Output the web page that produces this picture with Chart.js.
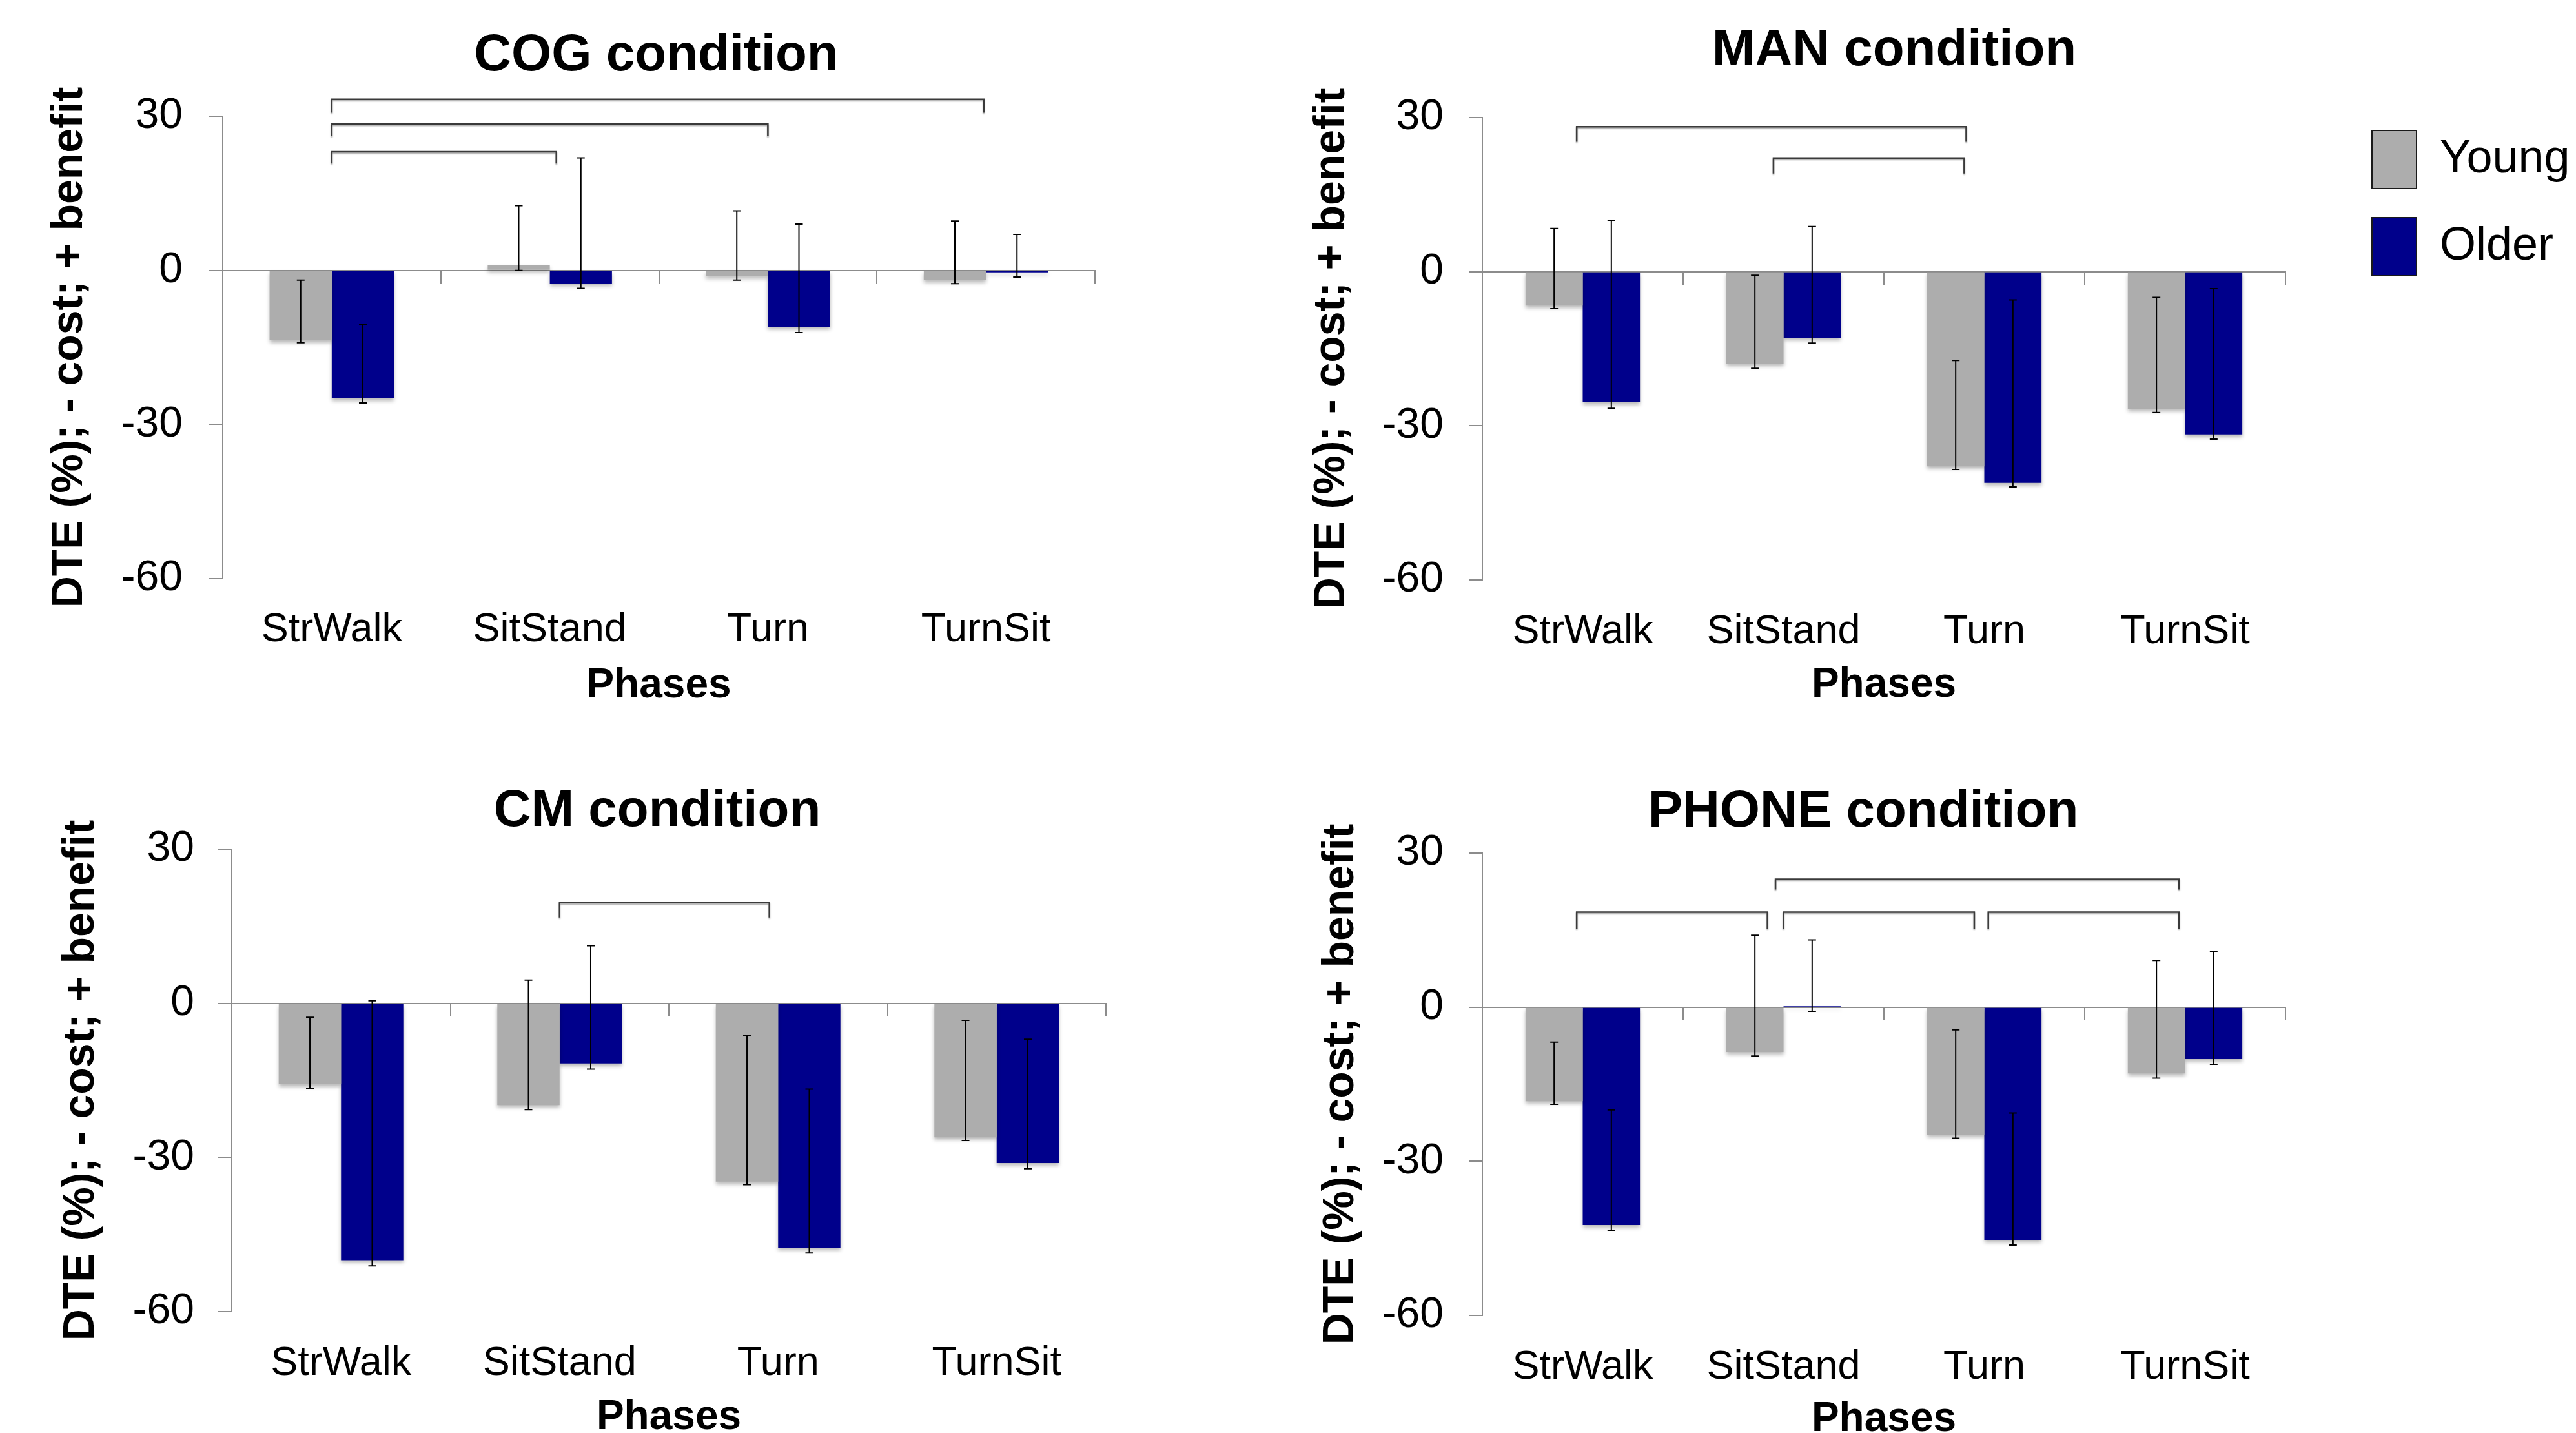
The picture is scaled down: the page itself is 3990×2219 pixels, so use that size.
<!DOCTYPE html>
<html><head><meta charset="utf-8">
<script src="https://cdn.jsdelivr.net/npm/chart.js@4.4.1/dist/chart.umd.min.js"></script>
<style>
html,body{margin:0;padding:0;background:#fff;overflow:hidden;}
#wrap{position:relative;width:3990px;height:2219px;overflow:hidden;background:#fff;}
canvas{position:absolute;}
</style></head><body>
<div id="wrap">
<canvas id="cog" width="1995" height="1110" style="left:0;top:0"></canvas>
<canvas id="man" width="1995" height="1110" style="left:1995px;top:0"></canvas>
<canvas id="cm" width="1995" height="1130" style="left:0;top:1110px"></canvas>
<canvas id="phone" width="1995" height="1130" style="left:1995px;top:1110px"></canvas>
</div>
<script>
// ---------- data ----------
const categories = ['StrWalk', 'SitStand', 'Turn', 'TurnSit'];
const seriesNames = ['Young', 'Older'];
const yTicks = [-60, -30, 0, 30];

// COG condition
const cogYoung = [-13.6, 1.0, -1.1, -1.9];
const cogOlder = [-24.9, -2.6, -11.0, -0.4];
const cogYoungErr = [[-14.1, -1.9], [0.0, 12.6], [-1.9, 11.6], [-2.6, 9.6]];
const cogOlderErr = [[-25.8, -10.6], [-3.5, 21.9], [-12.1, 9.0], [-1.3, 7.0]];
const cogBrackets = [[0, 2.99, 33.3, 30.7], [0, 2.0, 28.5, 26.1], [0, 1.03, 23.1, 20.8]];

// MAN condition
const manYoung = [-6.6, -17.9, -37.9, -26.7];
const manOlder = [-25.4, -12.9, -41.1, -31.7];
const manYoungErr = [[-7.2, 8.4], [-18.8, -0.7], [-38.5, -17.3], [-27.4, -5.0]];
const manOlderErr = [[-26.6, 10.0], [-13.9, 8.8], [-41.9, -5.5], [-32.6, -3.3]];
const manBrackets = [[-0.03, 1.91, 28.2, 25.3], [0.95, 1.9, 22.1, 19.1]];

// CM condition
const cmYoung = [-15.7, -19.8, -34.7, -26.1];
const cmOlder = [-50.0, -11.7, -47.6, -31.1];
const cmYoungErr = [[-16.5, -2.7], [-20.7, 4.5], [-35.3, -6.3], [-26.7, -3.3]];
const cmOlderErr = [[-51.1, 0.5], [-12.8, 11.2], [-48.6, -16.7], [-32.2, -7.0]];
const cmBrackets = [[1.0, 1.96, 19.6, 16.7]];

// PHONE condition
const phoneYoung = [-18.3, -8.7, -24.8, -12.9];
const phoneOlder = [-42.4, 0.2, -45.3, -10.1];
const phoneYoungErr = [[-18.9, -6.8], [-9.5, 14.0], [-25.5, -4.4], [-13.8, 9.1]];
const phoneOlderErr = [[-43.4, -20.0], [-0.8, 13.1], [-46.3, -20.6], [-11.1, 10.9]];
const phoneBrackets = [[0.96, 2.97, 24.9, 22.9], [-0.03, 0.92, 18.5, 15.3], [1.0, 1.95, 18.5, 15.3], [2.02, 2.97, 18.5, 15.3]];

// ---------- styling ----------
const FONT = '"Liberation Sans", Arial, Helvetica, sans-serif';
Chart.defaults.font.family = FONT;
Chart.defaults.color = '#000';
const AXIS_GRAY = '#8c8c8c';
const YOUNG_COLOR = '#adadad';
const OLDER_COLOR = '#00008b';

// ---------- plugins ----------
const shadowPlugin = {
  id: 'barShadow',
  beforeDatasetsDraw(chart) {
    const c = chart.ctx; c.save();
    c.shadowColor = 'rgba(0,0,0,0.28)'; c.shadowBlur = 6; c.shadowOffsetY = 4;
  },
  afterDatasetsDraw(chart) { chart.ctx.restore(); }
};

const errorBarPlugin = {
  id: 'errorBars',
  afterDatasetsDraw(chart) {
    const ctx = chart.ctx, ys = chart.scales.y, cap = 6;
    ctx.save();
    ctx.strokeStyle = '#000'; ctx.lineWidth = 2;
    chart.data.datasets.forEach((ds, d) => {
      const meta = chart.getDatasetMeta(d);
      (ds.errorBars || []).forEach((e, i) => {
        const bar = meta.data[i]; if (!bar) return;
        const x = bar.x, y1 = ys.getPixelForValue(e[0]), y2 = ys.getPixelForValue(e[1]);
        ctx.beginPath();
        ctx.moveTo(x, y1); ctx.lineTo(x, y2);
        ctx.moveTo(x - cap, y1); ctx.lineTo(x + cap, y1);
        ctx.moveTo(x - cap, y2); ctx.lineTo(x + cap, y2);
        ctx.stroke();
      });
    });
    ctx.restore();
  }
};

const bracketPlugin = {
  id: 'brackets',
  afterDraw(chart, args, opts) {
    const xs = chart.scales.x, ys = chart.scales.y, ctx = chart.ctx;
    ctx.save();
    ctx.strokeStyle = '#3a3a3a'; ctx.lineWidth = 2.5;
    ctx.shadowColor = 'rgba(0,0,0,0.35)'; ctx.shadowOffsetY = 2; ctx.shadowBlur = 2;
    (opts.items || []).forEach(([a, b, top, leg]) => {
      const x1 = xs.getPixelForValue(a), x2 = xs.getPixelForValue(b);
      const yt = ys.getPixelForValue(top), yl = ys.getPixelForValue(leg);
      ctx.beginPath();
      ctx.moveTo(x1, yl); ctx.lineTo(x1, yt); ctx.lineTo(x2, yt); ctx.lineTo(x2, yl);
      ctx.stroke();
    });
    ctx.restore();
  }
};

const nudgePlugin = {
  id: 'nudge',
  afterLayout(chart, args, opts) {
    const ca = chart.chartArea;
    if (chart.titleBlock && opts.titleDx !== undefined) {
      const t = chart.titleBlock;
      t.left = ca.left + opts.titleDx; t.right = ca.right + opts.titleDx; t.width = t.right - t.left;
    }
    if (chart.legend && opts.legendLeft !== undefined) {
      const l = chart.legend, w = l.width, h = l.height;
      l.left = opts.legendLeft; l.right = l.left + w;
      l.top = opts.legendTop; l.bottom = l.top + h;
    }
  }
};

function makeChart(id, cfg) {
  const legend = cfg.legend ? {
    display: true, position: 'chartArea', align: 'start',
    labels: {
      boxWidth: 69, boxHeight: 90, padding: 45, color: '#000', font: {size: 72},
      generateLabels: (chart) => Chart.defaults.plugins.legend.labels.generateLabels(chart)
        .map(l => Object.assign(l, {strokeStyle: '#1a1a1a', lineWidth: 2}))
    }
  } : {display: false};

  return new Chart(document.getElementById(id), {
    type: 'bar',
    data: {
      labels: categories,
      datasets: [
        {label: seriesNames[0], data: cfg.young, errorBars: cfg.youngErr, backgroundColor: YOUNG_COLOR, borderWidth: 0},
        {label: seriesNames[1], data: cfg.older, errorBars: cfg.olderErr, backgroundColor: OLDER_COLOR, borderWidth: 0}
      ]
    },
    options: {
      responsive: false, animation: false, devicePixelRatio: 1,
      layout: {padding: {left: 0, top: 0, right: cfg.padRight, bottom: 0}},
      datasets: {bar: {categoryPercentage: 0.57, barPercentage: 1.0}},
      plugins: {
        title: {display: true, text: cfg.title, color: '#000', font: {size: 80, weight: 'bold'},
                padding: {top: cfg.titleTop, bottom: cfg.titleBottom}},
        legend: legend,
        tooltip: {enabled: false},
        brackets: {items: cfg.brackets},
        nudge: {titleDx: cfg.titleDx, legendLeft: cfg.legendLeft, legendTop: cfg.legendTop}
      },
      scales: {
        x: {
          type: 'category', position: 'bottom', offset: true,
          grid: {display: false, drawTicks: false}, border: {display: false},
          ticks: {font: {size: 63}, color: '#000', padding: cfg.xTickPad, maxRotation: 0, autoSkip: false},
          title: {display: true, text: 'Phases', color: '#000', font: {size: 64, weight: 'bold'}, padding: {top: 0, bottom: cfg.xTitlePad}},
          afterFit: (s) => { s.height = cfg.xHeight; }
        },
        x2: {
          type: 'category', axis: 'x', position: {y: 0}, offset: true,
          grid: {display: true, offset: true, drawOnChartArea: false, drawTicks: true, tickLength: 19, color: AXIS_GRAY, lineWidth: 2},
          border: {display: true, color: AXIS_GRAY, width: 2},
          ticks: {display: false}
        },
        y: {
          type: 'linear', position: 'left', min: yTicks[0], max: yTicks[yTicks.length - 1],
          afterBuildTicks: (s) => { s.ticks = yTicks.map(v => ({value: v})); },
          grid: {drawOnChartArea: false, drawTicks: true, tickLength: 21, color: AXIS_GRAY, lineWidth: 2},
          border: {display: true, color: AXIS_GRAY, width: 2},
          ticks: {font: {size: 66}, color: '#000', padding: cfg.yTickPad},
          title: {display: true, text: 'DTE (%); - cost; + benefit', color: '#000', font: {size: 68, weight: 'bold'},
                  padding: {top: cfg.yTitlePad, bottom: 0}},
          afterFit: (s) => { s.width = cfg.yWidth; }
        }
      }
    },
    plugins: [shadowPlugin, errorBarPlugin, bracketPlugin, nudgePlugin]
  });
}

makeChart('cog', {
  title: 'COG condition', young: cogYoung, older: cogOlder, youngErr: cogYoungErr, olderErr: cogOlderErr, brackets: cogBrackets,
  padRight: 299, titleTop: 39, titleBottom: 45, titleDx: -4,
  yWidth: 345, yTickPad: 41, yTitlePad: 67,
  xHeight: 214, xTickPad: 42, xTitlePad: 9
});
makeChart('man', {
  title: 'MAN condition', young: manYoung, older: manOlder, youngErr: manYoungErr, olderErr: manOlderErr, brackets: manBrackets,
  padRight: 450, titleTop: 31, titleBottom: 55, titleDx: 16,
  yWidth: 301, yTickPad: 39, yTitlePad: 27,
  xHeight: 212, xTickPad: 43, xTitlePad: 10,
  legend: true, legendLeft: 1634, legendTop: 157
});
makeChart('cm', {
  title: 'CM condition', young: cmYoung, older: cmOlder, youngErr: cmYoungErr, olderErr: cmOlderErr, brackets: cmBrackets,
  padRight: 282, titleTop: 99, titleBottom: 10, titleDx: -18,
  yWidth: 359, yTickPad: 37, yTitlePad: 85,
  xHeight: 209, xTickPad: 43, xTitlePad: 6
});
makeChart('phone', {
  title: 'PHONE condition', young: phoneYoung, older: phoneOlder, youngErr: phoneYoungErr, olderErr: phoneOlderErr, brackets: phoneBrackets,
  padRight: 450, titleTop: 100, titleBottom: 15, titleDx: -32,
  yWidth: 301, yTickPad: 39, yTitlePad: 41,
  xHeight: 203, xTickPad: 43, xTitlePad: 3
});
</script>
</body></html>
